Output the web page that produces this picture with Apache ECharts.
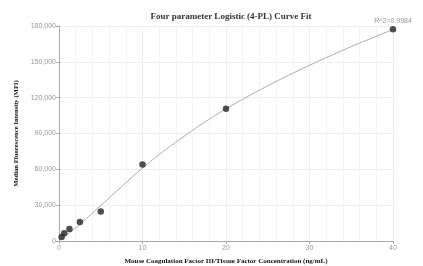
<!DOCTYPE html>
<html><head><meta charset="utf-8">
<script src="https://cdn.jsdelivr.net/npm/echarts@6/dist/echarts.min.js"></script>
<style>html,body{margin:0;padding:0;background:#fff}#c{width:423px;height:266px}</style>
</head><body><div id="c"></div>
<script>
const concX = [0.3125, 0.625, 1.25, 2.5, 5, 10, 20, 40];
const mfiY = [3400, 6400, 10000, 15900, 24800, 64000, 110800, 177200];
const curveX = [0, 1, 2.5, 5, 7.5, 10, 12.5, 15, 17.5, 20, 22.5, 25, 27.5, 30, 32.5, 35, 37.5, 40];
const curveY = [500, 5500, 14000, 29700, 45500, 61000, 75000, 87750, 99750, 110600, 120600, 129975, 138725, 147100, 155100, 162725, 169975, 177100];
const yTicks = [0, 30000, 60000, 90000, 120000, 150000, 180000];
const r2Label = 'R^2=0.9984';

const chart = echarts.init(document.getElementById('c'));
const serif = '"Liberation Serif", "DejaVu Serif", serif';
chart.setOption({
  animation: false,
  title: {
    text: 'Four parameter Logistic (4-PL) Curve Fit',
    left: 226, top: 7, textAlign: 'center',
    textStyle: {fontFamily: serif, fontWeight: 'bold', fontSize: 9, color: '#333'}
  },
  grid: {left: 59, right: 30, top: 26, bottom: 25, outerBoundsMode: 'none', containLabel: false},
  xAxis: {
    type: 'value', min: 0, max: 40, interval: 10,
    name: 'Mouse Coagulation Factor III/Tissue Factor Concentration (ng/mL)',
    nameLocation: 'middle', nameGap: 17,
    nameTextStyle: {fontFamily: serif, fontWeight: 'bold', fontSize: 7, color: '#111'},
    axisLine: {show: true, lineStyle: {color: '#aaa'}},
    axisTick: {show: true, length: 3, lineStyle: {color: '#aaa'}},
    axisLabel: {fontSize: 7, color: '#999', margin: 4, fontFamily: 'Arial, sans-serif'},
    splitLine: {show: true, lineStyle: {color: '#eceef4'}},
    minorTick: {show: false, splitNumber: 5},
    minorSplitLine: {show: true, lineStyle: {color: '#f3f4f8'}}
  },
  yAxis: {
    type: 'value', min: 0, max: 180000, interval: 30000,
    name: 'Median Fluorescence Intensity (MFI)',
    nameLocation: 'middle', nameGap: 32,
    nameTextStyle: {fontFamily: serif, fontWeight: 'bold', fontSize: 6.7, color: '#111'},
    axisLine: {show: true, lineStyle: {color: '#aaa'}},
    axisTick: {show: true, length: 3, lineStyle: {color: '#aaa'}},
    axisLabel: {fontSize: 7, color: '#999', margin: 3, fontFamily: 'Arial, sans-serif',
      formatter: v => v.toLocaleString('en-US')},
    splitLine: {show: true, lineStyle: {color: '#eceef4'}}
  },
  series: [
    {
      type: 'line', smooth: true, symbol: 'none',
      data: curveX.map((x, i) => [x, curveY[i]]),
      lineStyle: {color: '#aaa', width: 1}, z: 2
    },
    {
      type: 'scatter', symbolSize: 6.5,
      data: concX.map((x, i) => [x, mfiY[i]]),
      itemStyle: {color: '#222'}, z: 3,
      label: {
        show: true, position: 'top', distance: 2, fontSize: 7, color: '#777',
        fontFamily: 'Arial, sans-serif',
        formatter: p => p.dataIndex === concX.length - 1 ? r2Label : ''
      }
    }
  ]
});
</script></body></html>
